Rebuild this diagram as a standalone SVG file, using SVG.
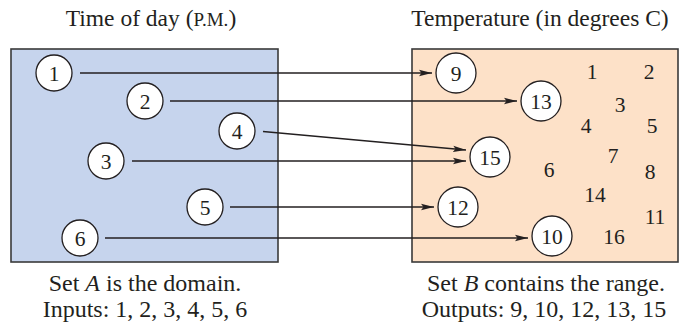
<svg xmlns="http://www.w3.org/2000/svg" width="679" height="331" viewBox="0 0 679 331">
<defs>
<style>
.t{font-family:"Liberation Serif","Times New Roman",serif;fill:#231f20;}
.title{font-size:23.5px;}
.cap{font-size:24px;}
.num{font-size:21.5px;text-anchor:middle;}
.box{stroke:#3a3a3a;stroke-width:1.6;}
.node{fill:#ffffff;stroke:#231f20;stroke-width:1.3;}
.edge{stroke:#231f20;stroke-width:1.3;fill:none;marker-end:url(#arr);}
</style>
<marker id="arr" markerUnits="userSpaceOnUse" markerWidth="14" markerHeight="8" viewBox="0 0 14 8" refX="13" refY="4" orient="auto">
<path d="M0,0.8 L13,4 L0,7.2 L2.5,4 Z" fill="#231f20"/>
</marker>
</defs>
<g id="titles">
<text class="t title" x="151" y="26" text-anchor="middle">Time of day (<tspan font-size="19">P.M.</tspan>)</text>
<text class="t title" x="540" y="26" text-anchor="middle">Temperature (in degrees C)</text>
</g>
<g id="setA">
<rect class="box" x="11" y="49" width="267" height="213" fill="#c6d4ed"/>
</g>
<g id="setB">
<rect class="box" x="412" y="49" width="266" height="213" fill="#fde1c8"/>
</g>
<g id="connectors">
<line class="edge" x1="80" y1="73" x2="432" y2="73"/>
<line class="edge" x1="170" y1="101" x2="517" y2="101"/>
<line class="edge" x1="263" y1="131.5" x2="466" y2="150"/>
<line class="edge" x1="132" y1="161" x2="466" y2="161"/>
<line class="edge" x1="230" y1="207" x2="434" y2="207"/>
<line class="edge" x1="105" y1="238" x2="528" y2="238"/>
</g>
<g id="a1"><circle class="node" cx="54" cy="73" r="18"/><text class="t num" x="54" y="80.5">1</text></g>
<g id="a2"><circle class="node" cx="145" cy="101" r="18"/><text class="t num" x="145" y="108.5">2</text></g>
<g id="a4"><circle class="node" cx="237" cy="131" r="18"/><text class="t num" x="237" y="138.5">4</text></g>
<g id="a3"><circle class="node" cx="106" cy="161" r="18"/><text class="t num" x="106" y="168.5">3</text></g>
<g id="a5"><circle class="node" cx="205" cy="207" r="18"/><text class="t num" x="205" y="214.5">5</text></g>
<g id="a6"><circle class="node" cx="80" cy="238" r="18"/><text class="t num" x="80" y="245.5">6</text></g>
<g id="b9"><circle class="node" cx="456" cy="73" r="20"/><text class="t num" x="456" y="80.5">9</text></g>
<g id="b13"><circle class="node" cx="541" cy="101" r="20"/><text class="t num" x="541" y="108.5">13</text></g>
<g id="b15"><circle class="node" cx="490" cy="157" r="20"/><text class="t num" x="490" y="164.5">15</text></g>
<g id="b12"><circle class="node" cx="458" cy="207" r="20"/><text class="t num" x="458" y="214.5">12</text></g>
<g id="b10"><circle class="node" cx="552" cy="236" r="20"/><text class="t num" x="552" y="243.5">10</text></g>
<g id="b-others">
<text class="t num" x="592" y="79">1</text>
<text class="t num" x="649" y="79">2</text>
<text class="t num" x="620" y="112">3</text>
<text class="t num" x="586" y="133">4</text>
<text class="t num" x="652" y="133">5</text>
<text class="t num" x="613" y="163">7</text>
<text class="t num" x="549" y="177">6</text>
<text class="t num" x="650" y="179">8</text>
<text class="t num" x="595" y="202">14</text>
<text class="t num" x="655" y="224">11</text>
<text class="t num" x="614" y="244">16</text>
</g>
<g id="captions">
<text class="t cap" x="145" y="291" text-anchor="middle">Set <tspan font-style="italic">A</tspan> is the domain.</text>
<text class="t cap" x="145" y="317" text-anchor="middle">Inputs: 1, 2, 3, 4, 5, 6</text>
<text class="t cap" x="546" y="291" text-anchor="middle">Set <tspan font-style="italic">B</tspan> contains the range.</text>
<text class="t cap" x="544" y="317" text-anchor="middle">Outputs: 9, 10, 12, 13, 15</text>
</g>
</svg>
